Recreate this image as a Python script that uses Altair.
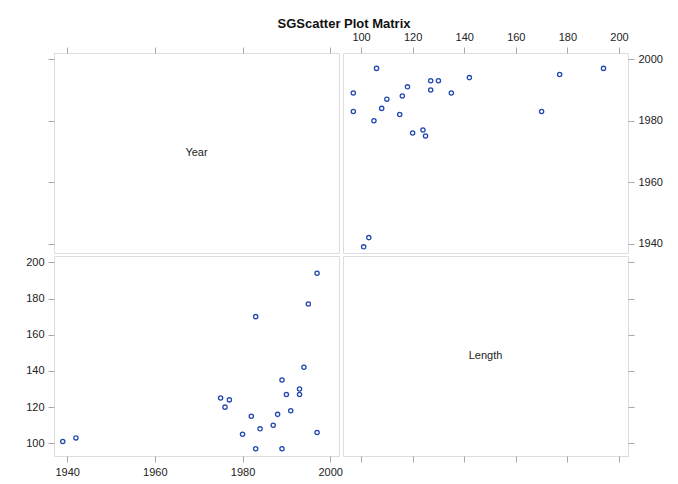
import altair as alt
import pandas as pd

years = [1997, 1995, 1983, 1994, 1989, 1993, 1993, 1990, 1975, 1977, 1976,
         1991, 1982, 1988, 1987, 1984, 1980, 1997, 1939, 1942, 1983, 1989]
lengths = [194, 177, 170, 142, 135, 130, 127, 127, 125, 124, 120,
           118, 115, 116, 110, 108, 105, 106, 101, 103, 97, 97]
year_ticks = [1940, 1960, 1980, 2000]
length_ticks = [100, 120, 140, 160, 180, 200]
var_names = ["Year", "Length"]
title_text = "SGScatter Plot Matrix"

df = pd.DataFrame({"Year": years, "Length": lengths})

FONT = "Liberation Sans"
GRAY = "#A8A8A8"
MARK = "#2347B0"
W, H = 285, 200

year_scale = alt.Scale(domain=[1937, 2002], nice=False, zero=False)
len_scale = alt.Scale(domain=[93, 203.5], nice=False, zero=False)


def axis(orient, values, labels):
    return alt.Axis(orient=orient, values=values, labels=labels, title=None,
                    grid=False, domain=False, ticks=True, tickSize=6,
                    tickColor=GRAY, labelPadding=5 if orient == "top" else 4,
                    labelFont=FONT, labelFontSize=11, labelColor="#222222",
                    format="d")


def point_mark():
    return dict(shape="circle", size=18, filled=False, color=MARK,
                strokeWidth=1.3, opacity=1)


def label_layer(name):
    return alt.Chart(pd.DataFrame({"name": [name]})).mark_text(
        font=FONT, fontSize=11, color="#222222").encode(
        text="name:N", x=alt.value(W / 2), y=alt.value(H / 2))


# top-left: Year diagonal
tl_pts = alt.Chart(df).mark_point(opacity=0).encode(
    x=alt.X("Year:Q", scale=year_scale, axis=axis("top", year_ticks, False)),
    y=alt.Y("Year:Q", scale=year_scale, axis=axis("left", year_ticks, False)),
)
tl = alt.layer(tl_pts, label_layer(var_names[0])).properties(width=W, height=H)

# top-right: Length (x) vs Year (y)
tr = alt.Chart(df).mark_point(**point_mark()).encode(
    x=alt.X("Length:Q", scale=len_scale, axis=axis("top", length_ticks, True)),
    y=alt.Y("Year:Q", scale=year_scale, axis=axis("right", year_ticks, True)),
).properties(width=W, height=H)

# bottom-left: Year (x) vs Length (y)
bl = alt.Chart(df).mark_point(**point_mark()).encode(
    x=alt.X("Year:Q", scale=year_scale, axis=axis("bottom", year_ticks, True)),
    y=alt.Y("Length:Q", scale=len_scale, axis=axis("left", length_ticks, True)),
).properties(width=W, height=H)

# bottom-right: Length diagonal
br_pts = alt.Chart(df).mark_point(opacity=0).encode(
    x=alt.X("Length:Q", scale=len_scale, axis=axis("bottom", length_ticks, False)),
    y=alt.Y("Length:Q", scale=len_scale, axis=axis("right", length_ticks, False)),
)
br = alt.layer(br_pts, label_layer(var_names[1])).properties(width=W, height=H)

chart = alt.concat(tl, tr, bl, br, columns=2,
                   spacing={"row": 3, "column": 4}, bounds="flush").properties(
    title=alt.TitleParams(title_text, font=FONT, fontSize=13, fontWeight="bold",
                          anchor="middle", color="#111111", offset=0),
    padding={"left": 17, "top": 9, "right": 5, "bottom": 5},
).configure_view(stroke=GRAY, strokeWidth=1).configure(background="white")

chart.save("out.html", embed_options={"renderer": "svg", "actions": False})
